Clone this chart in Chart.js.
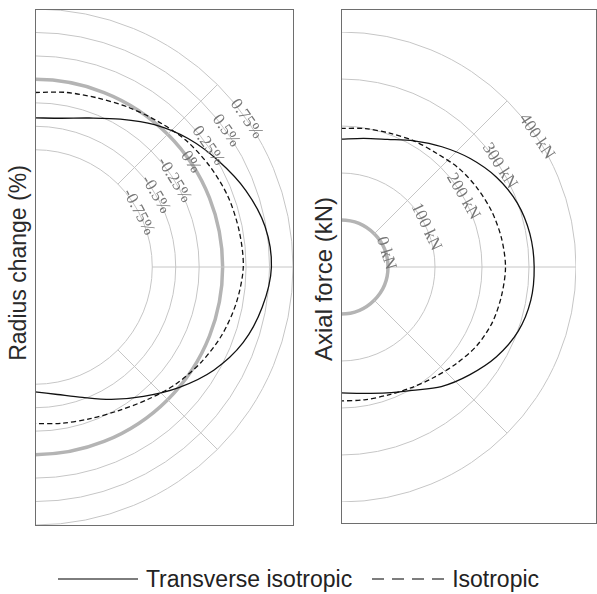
<!DOCTYPE html>
<html>
<head>
<meta charset="utf-8">
<title>Radius change and axial force</title>
<script src="https://cdn.jsdelivr.net/npm/chart.js@4.4.1/dist/chart.umd.min.js"></script>
<style>
  html, body { margin: 0; padding: 0; background: #ffffff; }
  body { width: 597px; height: 594px; position: relative; overflow: hidden;
         font-family: "Liberation Sans", Arial, sans-serif; }
  .clip { position: absolute; overflow: hidden; }
  .clip canvas { position: absolute; }
  .frame { position: absolute; box-sizing: border-box; border: 1px solid #6e6e6e; pointer-events: none; }
  .ytitle { position: absolute; transform: translate(-50%, -50%) rotate(-90deg);
            white-space: nowrap; color: #2a2a2a; }
  #legend { position: absolute; left: 0; width: 597px; top: 566px; height: 26px;
            display: flex; justify-content: center; align-items: center;
            font-size: 23px; color: #222; }
  #legend .item { display: flex; align-items: center; }
  #legend .item + .item { margin-left: 20px; }
  #legend svg { margin-right: 8px; }
</style>
</head>
<body>

<div class="clip" id="clipRadius" style="left:35px; top:9px; width:259px; height:517px;">
  <canvas id="radiusChart" width="516" height="516" style="left:-258px; top:0px; width:516px; height:516px;"></canvas>
</div>
<div class="frame" style="left:35px; top:9px; width:259px; height:517px;"></div>
<div class="ytitle" style="left:18px; top:263px; font-size:23px;">Radius change (%)</div>

<div class="clip" id="clipForce" style="left:341px; top:9px; width:256px; height:515px;">
  <canvas id="forceChart" width="470" height="470" style="left:-235px; top:23px; width:470px; height:470px;"></canvas>
</div>
<div class="frame" style="left:341px; top:9px; width:256px; height:515px;"></div>
<div class="ytitle" style="left:324px; top:279px; font-size:24px;">Axial force (kN)</div>

<div id="legend"></div>

<script>
// Directions around the section, clockwise from the top, every 10 degrees.
const directions = Array.from({ length: 36 }, (_, i) => i * 10);
// Directions that carry readings (right half of the section, top to bottom).
const sweep = [0, 10, 20, 30, 40, 50, 60, 70, 80, 90, 100, 110, 120, 130, 140, 150, 160, 170, 180];

const seriesNames = ['Transverse isotropic', 'Isotropic'];

// Radius change (%) along the sweep
const radiusTransverse = [-0.41, -0.39, -0.31, -0.18, -0.02, 0.13, 0.26, 0.39, 0.49, 0.52,
                          0.46, 0.36, 0.20, 0.00, -0.20, -0.37, -0.52, -0.62, -0.67];
const radiusIsotropic  = [-0.14, -0.11, -0.08, -0.03, 0.03, 0.10, 0.15, 0.19, 0.21, 0.22,
                          0.18, 0.12, 0.04, -0.05, -0.15, -0.23, -0.28, -0.31, -0.33];

// Axial force (kN) along the sweep
const forceTransverse = [172, 178, 189, 210, 234, 259, 282, 299, 308, 311,
                         310, 301, 282, 257, 232, 203, 185, 173, 168];
const forceIsotropic  = [195, 199, 203, 210, 216, 227, 235, 242, 247, 250,
                         247, 243, 234, 220, 207, 197, 190, 187, 185];

// Rings and their labels
const radiusRings = [-0.75, -0.5, -0.25, 0, 0.25, 0.5, 0.75];
const radiusRingLabels = ['-0.75%', '-0.5%', '-0.25%', '0%', '0.25%', '0.5%', '0.75%'];
const forceRings = [0, 100, 200, 300, 400];
const forceRingLabels = ['0 kN', '100 kN', '200 kN', '300 kN', '400 kN'];

// Spread a half-sweep series over the full circle, leaving the left half empty.
function onCircle(values) {
  const out = directions.map(() => null);
  sweep.forEach((deg, i) => { out[directions.indexOf(deg)] = values[i]; });
  return out;
}

// Spokes and rotated ring labels drawn on the radial scale.
const polarDecor = {
  id: 'polarDecor',
  beforeDatasetsDraw(chart, args, opts) {
    const s = chart.scales.r, ctx = chart.ctx;
    const r0 = s.getDistanceFromCenterForValue(opts.spokeFrom);
    const r1 = s.getDistanceFromCenterForValue(opts.spokeTo);
    ctx.save();
    ctx.strokeStyle = '#c6c6c6';
    ctx.lineWidth = 1;
    opts.spokes.forEach(deg => {
      const a = (deg - 90) * Math.PI / 180;
      ctx.beginPath();
      ctx.moveTo(s.xCenter + Math.cos(a) * r0, s.yCenter + Math.sin(a) * r0);
      ctx.lineTo(s.xCenter + Math.cos(a) * r1, s.yCenter + Math.sin(a) * r1);
      ctx.stroke();
    });
    ctx.restore();
  },
  afterDatasetsDraw(chart, args, opts) {
    const s = chart.scales.r, ctx = chart.ctx;
    ctx.save();
    ctx.fillStyle = '#767676';
    ctx.font = '17px "Liberation Serif", "Times New Roman", serif';
    ctx.textAlign = 'center';
    ctx.textBaseline = 'middle';
    opts.rings.forEach((v, i) => {
      const d = s.getDistanceFromCenterForValue(v);
      const deg = opts.labelAngles[i];
      const a = (deg - 90) * Math.PI / 180;
      ctx.save();
      ctx.translate(s.xCenter + Math.cos(a) * d, s.yCenter + Math.sin(a) * d);
      ctx.rotate(deg * Math.PI / 180);
      ctx.fillText(opts.labels[i], 0, 0);
      ctx.restore();
    });
    ctx.restore();
  }
};

function polarChart(canvasId, series, rings, ringLabels, labelAngles, min, max) {
  return new Chart(document.getElementById(canvasId), {
    type: 'radar',
    data: {
      labels: directions.map(d => d + '°'),
      datasets: [
        { label: seriesNames[0], data: onCircle(series[0]), borderColor: '#111111',
          borderWidth: 1.3, pointRadius: 0, fill: false, tension: 0.3, spanGaps: false },
        { label: seriesNames[1], data: onCircle(series[1]), borderColor: '#111111',
          borderWidth: 1.3, borderDash: [5, 3], pointRadius: 0, fill: false, tension: 0.3, spanGaps: false }
      ]
    },
    options: {
      responsive: false,
      animation: false,
      events: [],
      layout: { padding: 0 },
      plugins: {
        legend: { display: false },
        tooltip: { enabled: false },
        polarDecor: {
          rings: rings, labels: ringLabels, labelAngles: labelAngles,
          spokes: [45, 90, 135], spokeFrom: rings[0], spokeTo: rings[rings.length - 1]
        }
      },
      scales: {
        r: {
          min: min, max: max,
          ticks: { display: false },
          pointLabels: { display: false },
          angleLines: { display: false },
          grid: {
            circular: true,
            color: c => c.tick.value === min ? 'rgba(0,0,0,0)' : (c.tick.value === 0 ? '#b4b4b4' : '#c6c6c6'),
            lineWidth: c => c.tick.value === 0 ? 3.5 : 1
          },
          afterBuildTicks: scale => {
            scale.ticks = [min].concat(rings).map(v => ({ value: v }));
          }
        }
      }
    },
    plugins: [polarDecor]
  });
}

polarChart('radiusChart', [radiusTransverse, radiusIsotropic], radiusRings, radiusRingLabels,
           [62, 59, 58, 56, 55, 54.5, 55], -2, 0.75);
polarChart('forceChart', [forceTransverse, forceIsotropic], forceRings, forceRingLabels,
           [73, 64.7, 60, 57.5, 56.3], -100, 400);

// Shared legend
(function buildLegend() {
  const legend = document.getElementById('legend');
  const dashes = ['', '12 8'];
  seriesNames.forEach((name, i) => {
    const w = i === 0 ? 80 : 72;
    const item = document.createElement('div');
    item.className = 'item';
    item.innerHTML = '<svg width="' + w + '" height="6"><line x1="0" y1="3" x2="' + w +
      '" y2="3" stroke="#7d7d7d" stroke-width="2"' +
      (dashes[i] ? ' stroke-dasharray="' + dashes[i] + '"' : '') + '/></svg><span>' + name + '</span>';
    legend.appendChild(item);
  });
})();
</script>
</body>
</html>
